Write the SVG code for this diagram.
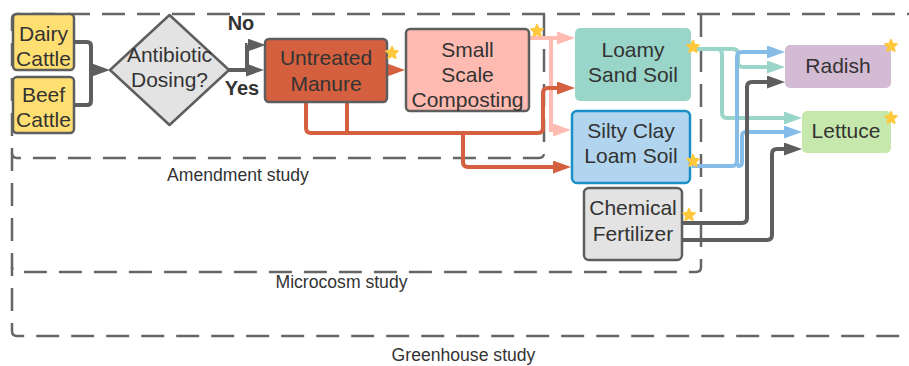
<svg xmlns="http://www.w3.org/2000/svg" width="909" height="366" viewBox="0 0 909 366">
<style>
text{font-family:"Liberation Sans",Arial,sans-serif;fill:#333;text-anchor:middle}
.n{font-size:21px}
.lab{font-size:17.6px}
.b{font-size:20px;font-weight:bold}
.dash{fill:none;stroke:#666;stroke-width:2.5;stroke-dasharray:23 12}
.c{fill:none;stroke-width:4}
.g{stroke:#5e5e5e}.r{stroke:#d4603f}.p{stroke:#ffbbb1}.t{stroke:#9ad5c9}.bl{stroke:#86bde8}
.star{fill:#ffc83d;stroke:#ffc83d;stroke-width:1.5;stroke-linejoin:round}
</style>
<defs>
<marker id="ag" markerUnits="userSpaceOnUse" markerWidth="18" markerHeight="14" refX="0" refY="6.5" orient="auto"><path d="M0,0 L18,6.5 L0,13 z" fill="#5e5e5e"/></marker>
<marker id="ar" markerUnits="userSpaceOnUse" markerWidth="18" markerHeight="14" refX="0" refY="6.5" orient="auto"><path d="M0,0 L18,6.5 L0,13 z" fill="#d4603f"/></marker>
<marker id="ap" markerUnits="userSpaceOnUse" markerWidth="18" markerHeight="14" refX="0" refY="6.5" orient="auto"><path d="M0,0 L18,6.5 L0,13 z" fill="#ffbbb1"/></marker>
<marker id="at" markerUnits="userSpaceOnUse" markerWidth="18" markerHeight="14" refX="0" refY="6.5" orient="auto"><path d="M0,0 L18,6.5 L0,13 z" fill="#9ad5c9"/></marker>
<marker id="ab" markerUnits="userSpaceOnUse" markerWidth="18" markerHeight="14" refX="0" refY="6.5" orient="auto"><path d="M0,0 L18,6.5 L0,13 z" fill="#86bde8"/></marker>
<polygon id="star" class="star" points="0,-6.5 1.76,-2.43 6.18,-2.01 2.85,0.93 3.82,5.26 0,3 -3.82,5.26 -2.85,0.93 -6.18,-2.01 -1.76,-2.43"/>
</defs>

<g id="regions">
<path class="dash" d="M930,14 H17 Q12,14 12,19 V331 Q12,336 17,336 H930"/>
<path class="dash" d="M701,14 V267 Q701,272 696,272 H17 Q12,272 12,267"/>
<path class="dash" d="M544,14 V153 Q544,158 539,158 H17 Q12,158 12,153"/>
<text class="lab" x="238" y="181">Amendment study</text>
<text class="lab" x="341.5" y="288">Microcosm study</text>
<text class="lab" x="463.5" y="361">Greenhouse study</text>
</g>

<g id="connectors">
<path class="c g" d="M74,42 H87 Q91,42 91,46 V101 Q91,105 87,105 H74"/>
<path class="c g" d="M91,70 H92" marker-end="url(#ag)"/>
<path class="c g" d="M229,70 H246" marker-end="url(#ag)"/>
<path class="c g" d="M247,70 V45 H247.5" marker-end="url(#ag)"/>
<path class="c r" d="M386,70 H387" marker-end="url(#ar)"/>
<path class="c p" d="M529,38 H557" marker-end="url(#ap)"/>
<path class="c p" d="M551,38 V130 H553" marker-end="url(#ap)"/>
<path class="c r" d="M306,102 V128 Q306,133 311,133 H538 Q543,133 543,128 V93 Q543,88 548,88 H557" marker-end="url(#ar)"/>
<path class="c r" d="M347,102 V133"/>
<path class="c r" d="M463,133 V162 Q463,167 468,167 H553" marker-end="url(#ar)"/>
<path class="c t" d="M692,49 H733 Q738,49 738,54 V62 Q738,67 743,67 H767" marker-end="url(#at)"/>
<path class="c t" d="M717,49 Q722,49 722,54 V113 Q722,118 727,118 H784" marker-end="url(#at)"/>
<path class="c bl" d="M692,166 H732 Q737,166 737,161 V57 Q737,52 742,52 H767" marker-end="url(#ab)"/>
<path class="c bl" d="M737,166 H738 Q742,166 742,162 V136 Q742,132 746,132 H784" marker-end="url(#ab)"/>
<path class="c g" d="M682,223 H742 Q747,223 747,218 V87 Q747,82 752,82 H767" marker-end="url(#ag)"/>
<path class="c g" d="M682,240 H767 Q772,240 772,235 V154 Q772,149 777,149 H784" marker-end="url(#ag)"/>
<text class="b" x="241" y="30">No</text>
<text class="b" x="242" y="95">Yes</text>
</g>

<g id="dairy">
<rect x="13" y="14" width="61" height="56" rx="4" fill="#ffdf71" stroke="#5e5e5e" stroke-width="2.5"/>
<text class="n" x="43.5" y="41">Dairy</text><text class="n" x="43.5" y="66">Cattle</text>
</g>
<g id="beef">
<rect x="13" y="77" width="61" height="56" rx="4" fill="#ffdf71" stroke="#5e5e5e" stroke-width="2.5"/>
<text class="n" x="43.5" y="102">Beef</text><text class="n" x="43.5" y="127">Cattle</text>
</g>
<g id="antibiotic">
<path d="M169.5,15 L229,70 L169.5,125 L110,70 z" fill="#e3e3e3" stroke="#5e5e5e" stroke-width="2.5" stroke-linejoin="round"/>
<text class="n" x="169.5" y="62">Antibiotic</text><text class="n" x="169.5" y="87">Dosing?</text>
</g>
<g id="manure">
<rect x="265" y="39" width="122" height="63" rx="4" fill="#d4603f" stroke="#5e5e5e" stroke-width="2.5"/>
<text class="n" x="326" y="65">Untreated</text><text class="n" x="326" y="91">Manure</text>
<use href="#star" x="392" y="53"/>
</g>
<g id="composting">
<rect x="406" y="29" width="123" height="82" rx="4" fill="#ffbbb1" stroke="#5e5e5e" stroke-width="2.5"/>
<text class="n" x="467.5" y="57">Small</text><text class="n" x="467.5" y="82">Scale</text><text class="n" x="467.5" y="107">Composting</text>
<use href="#star" x="537" y="31"/>
</g>
<g id="loamy">
<rect x="575" y="28" width="116" height="73" rx="5" fill="#9ad5c9"/>
<text class="n" x="633" y="57">Loamy</text><text class="n" x="633" y="82">Sand Soil</text>
<use href="#star" x="693" y="47"/>
</g>
<g id="silty">
<rect x="572" y="111" width="118" height="72" rx="5" fill="#b1d5ef" stroke="#1a8fc8" stroke-width="2.5"/>
<text class="n" x="631" y="138">Silty Clay</text><text class="n" x="631" y="163">Loam Soil</text>
<use href="#star" x="693" y="161"/>
</g>
<g id="chemical">
<rect x="584" y="188" width="98" height="72" rx="5" fill="#e3e3e3" stroke="#5e5e5e" stroke-width="2.5"/>
<text class="n" x="633" y="215">Chemical</text><text class="n" x="633" y="241">Fertilizer</text>
<use href="#star" x="689" y="215"/>
</g>
<g id="radish">
<rect x="785" y="45" width="106" height="43" rx="5" fill="#d4bbd4"/>
<text class="n" x="838" y="73">Radish</text>
<use href="#star" x="891" y="46"/>
</g>
<g id="lettuce">
<rect x="802" y="111" width="89" height="42" rx="5" fill="#c7e8ad"/>
<text class="n" x="846" y="138">Lettuce</text>
<use href="#star" x="891" y="118"/>
</g>
</svg>
